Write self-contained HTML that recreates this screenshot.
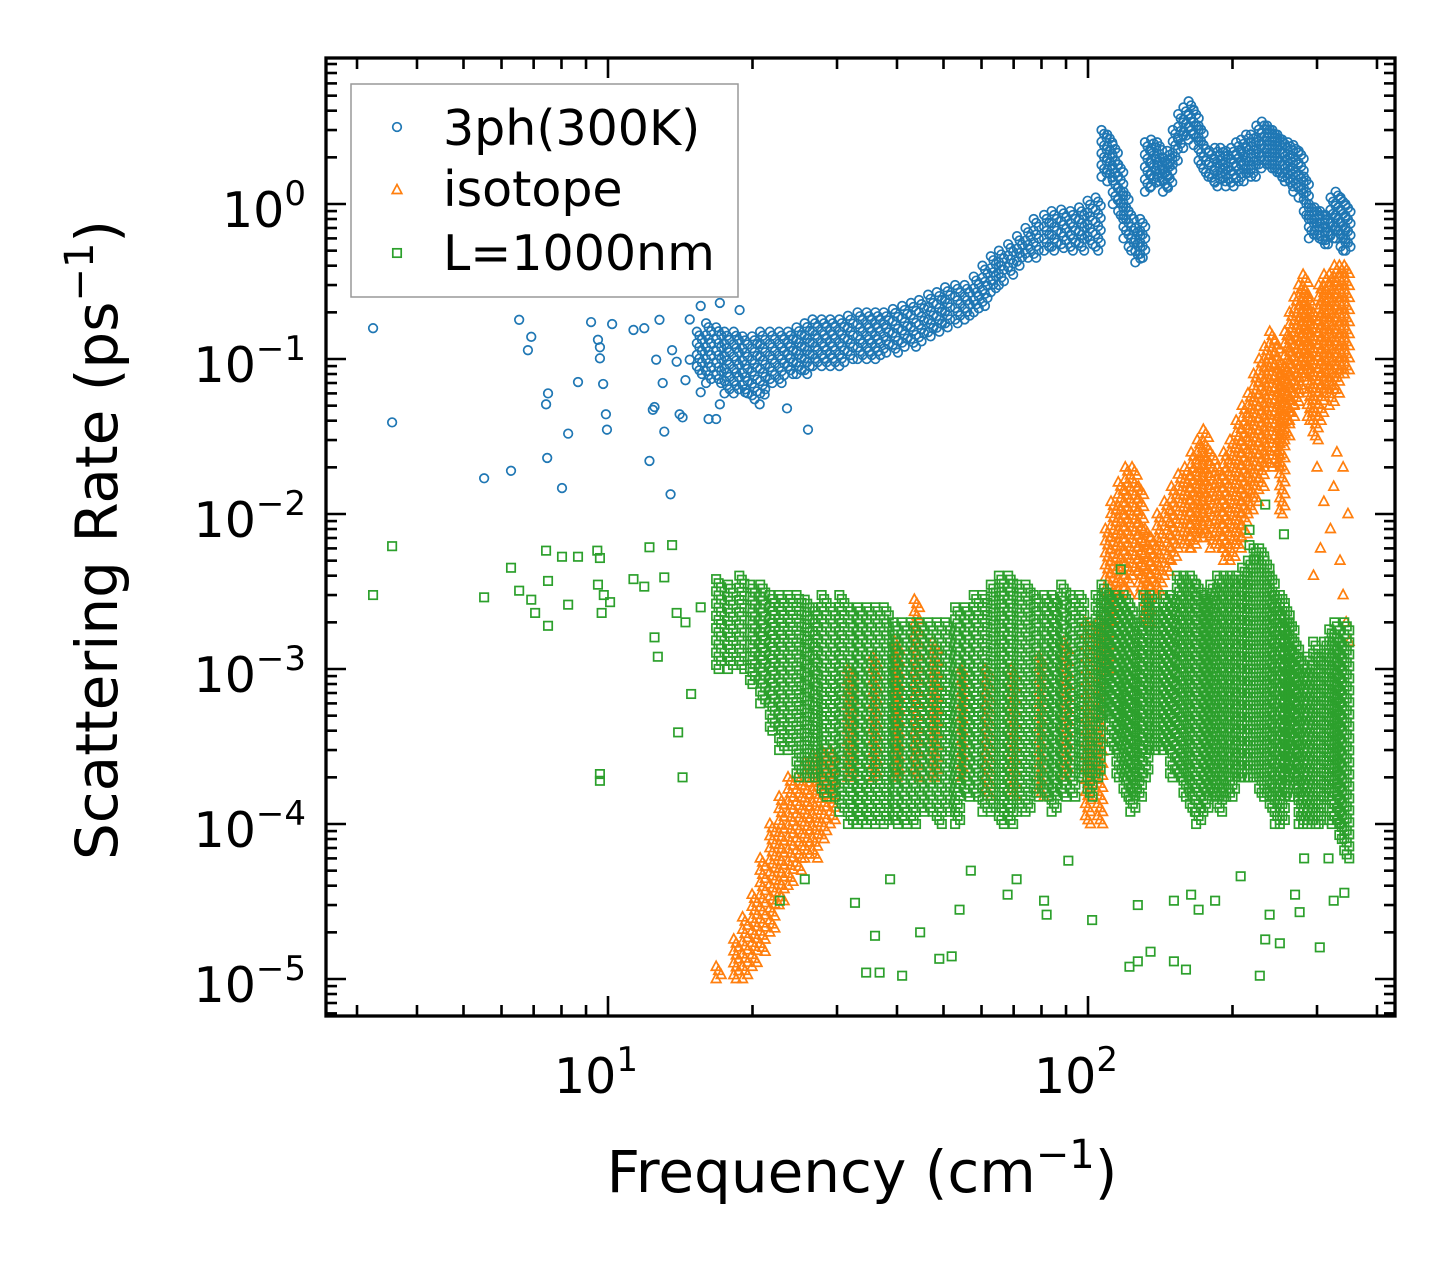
<!DOCTYPE html>
<html><head><meta charset="utf-8"><style>
body{margin:0;background:#fff;}
svg text{font-family:"DejaVu Sans","Liberation Sans",sans-serif;fill:#000;}
</style></head><body>
<svg id="chart" width="1455" height="1265" viewBox="0 0 1455 1265" xmlns="http://www.w3.org/2000/svg">
<rect width="1455" height="1265" fill="#fff"/>
<g id="marks"></g>
<g id="axes"></g>
</svg>
<script>
// ---------- data (frequency cm^-1, scattering rate ps^-1) ----------
const xTickLabels=["1","2"];
const yTickExps=["0","−1","−2","−3","−4","−5"];
// 3ph scattered points [f, rate]
const blueFreq=[3.24,3.55,5.52,6.28,6.53,6.92,6.81,7.43,7.5,7.47,8.02,8.26,8.66,9.22,9.53,9.62,9.62,9.77,9.9,9.95,10.2,11.3,11.9,12.2,12.4,12.5,12.6,12.8,13.0,13.1,13.5,13.6,13.9,14.1,14.3,14.5,14.8,15.6,16.2,16.8,17.1,19.3,20.7,21.2,23.6,26.1,17.1,18.8,15.6,14.8];
const blueRate=[0.158,0.039,0.017,0.019,0.179,0.139,0.114,0.051,0.06,0.023,0.0147,0.033,0.071,0.173,0.133,0.119,0.101,0.069,0.044,0.035,0.168,0.154,0.158,0.022,0.047,0.049,0.099,0.179,0.07,0.034,0.0134,0.114,0.096,0.044,0.042,0.073,0.099,0.061,0.041,0.041,0.051,0.061,0.051,0.059,0.048,0.035,0.23,0.207,0.22,0.18];
// 3ph dense band: frequency, low, high
const blueBandF=[15.5,16.2,17,17.7,18.5,19.3,20.2,21,22,23,24,25,26,27,28.2,29.4,30.7,32,33.5,35,36.5,38,39.7,41.5,43.3,45,47,49,51,53.5,56,58.5,61,63.5,66,69,72,75,78,82,85,89,93,97,101,105,108,111,114,117,120,123,127,130,133,137,141,145,148,152,156,160,164,168,172,176,181,186,191,196,201,206,211,216,221,227,233,239,245,251,257,264,271,278,285,292,300,308,316,324,332,340,348];
const blueBandLo=[.08,.07,.07,.06,.06,.06,.055,.06,.07,.07,.08,.08,.08,.09,.09,.09,.09,.1,.1,.1,.1,.11,.11,.12,.12,.13,.14,.15,.16,.17,.18,.2,.22,.27,.3,.35,.4,.45,.45,.5,.5,.52,.5,.5,.55,.5,1.5,1.4,1.0,.8,.6,.5,.42,.45,1.2,1.3,1.4,1.2,1.3,1.8,2.3,2.6,2.8,2.4,1.8,1.5,1.4,1.3,1.4,1.3,1.3,1.4,1.4,1.5,1.5,1.7,1.8,1.7,1.6,1.5,1.4,1.3,1.2,1.1,.8,.6,.6,.55,.55,.6,.6,.5,.5];
const blueBandHi=[.15,.17,.16,.15,.15,.14,.14,.15,.15,.15,.15,.16,.17,.18,.18,.18,.18,.19,.2,.2,.2,.2,.21,.22,.23,.24,.26,.27,.29,.3,.3,.34,.4,.46,.5,.55,.62,.7,.8,.85,.9,.92,.9,.95,1.05,1.1,3.0,2.8,2.4,1.8,1.2,.9,.7,.8,2.5,2.6,2.5,2.0,2.2,3.0,3.8,4.2,4.6,4.0,3.2,2.4,2.2,2.3,2.3,2.2,2.3,2.5,2.6,2.8,2.8,3.2,3.4,3.2,3.0,2.8,2.6,2.5,2.4,2.2,1.5,1.0,.95,.9,.85,1.1,1.2,1.1,1.0];
// isotope band
const orangeBandF=[17,18.5,19.3,20.2,21,22,23,24,25,26,27,28.2,29.4,32,36,40,44,48,55,62,70,80,90,100,106,110,113,117,121,125,129,133,137,141,146,151,156,161,166,171,176,182,188,194,200,206,212,218,224,230,236,242,248,254,260,266,272,278,284,290,298,306,314,322,330,338,346];
const orangeBandLo=[1e-5,1e-5,1e-5,1.2e-5,1.5e-5,2e-5,3e-5,4e-5,5e-5,6e-5,6e-5,8e-5,1e-4,2e-4,2e-4,2e-4,2e-4,2e-4,2e-4,1.5e-4,1.5e-4,1.5e-4,2e-4,1e-4,1e-4,1e-3,2e-3,3e-3,3e-3,4e-3,3e-3,2e-3,3e-3,3e-3,4e-3,5e-3,6e-3,6e-3,6e-3,7e-3,7e-3,6e-3,6e-3,5e-3,5e-3,6e-3,7e-3,1e-2,1.2e-2,1.5e-2,2e-2,2e-2,2e-2,1e-2,3e-2,4e-2,5e-2,6e-2,8e-2,4e-2,3e-2,4e-2,6e-2,5e-2,6e-2,8e-2,8e-2];
const orangeBandHi=[1.2e-5,1.8e-5,2.5e-5,3.5e-5,6e-5,1e-4,1.5e-4,2e-4,2e-4,2.5e-4,2.8e-4,3e-4,3e-4,1e-3,1.2e-3,1.5e-3,2.8e-3,1.5e-3,1e-3,1e-3,1e-3,1.2e-3,1.5e-3,2e-3,2e-3,8e-3,1.2e-2,1.6e-2,2e-2,2e-2,1.5e-2,8e-3,7e-3,1e-2,1.2e-2,1.5e-2,1.8e-2,2e-2,2.5e-2,3e-2,3.5e-2,2.5e-2,2e-2,2.5e-2,3e-2,4e-2,5e-2,6e-2,8e-2,1e-1,1.2e-1,1.5e-1,1.3e-1,9e-2,1.5e-1,2e-1,2.5e-1,3e-1,3.5e-1,2.5e-1,2e-1,3e-1,3.5e-1,3.5e-1,4e-1,4e-1,4e-1];
const orangeFreq=[300,310,320,335,340,345,350,295,305,325,348,340,330];
const orangeRate=[2e-2,1.2e-2,8e-3,5e-3,3e-3,2e-3,1.5e-3,4e-3,6e-3,1.5e-2,1e-2,2e-2,2.5e-2];
// L=1000nm band
const greenBandF=[17,18,19,20,21,22,23,24,25,26,27,28.2,29.4,30.7,32,33.5,35,36.5,38,39.7,41.5,43.3,45,47,49,51,53.5,56,58.5,61,63.5,66,69,72,75,78,82,85,89,93,97,101,105,108,112,116,120,124,128,132,136,140,145,150,155,160,165,170,176,182,188,194,200,206,212,218,224,230,236,242,248,254,260,266,272,278,284,290,298,306,314,322,330,338,346];
const greenBandLo=[1e-3,1e-3,1e-3,8e-4,6e-4,4e-4,3e-4,3e-4,2e-4,2e-4,2e-4,1.5e-4,1.5e-4,1.2e-4,1e-4,1e-4,1e-4,1e-4,1e-4,1e-4,1e-4,1e-4,1.2e-4,1.2e-4,1e-4,1.2e-4,1e-4,1.5e-4,1.5e-4,1.2e-4,1.2e-4,1e-4,1e-4,1.2e-4,1.2e-4,1.5e-4,1.5e-4,1.2e-4,1.5e-4,1.5e-4,2e-4,1.5e-4,2e-4,5e-4,3e-4,2e-4,1.5e-4,1.2e-4,1.5e-4,2e-4,3e-4,3e-4,3e-4,2e-4,2e-4,1.5e-4,1.2e-4,1e-4,1.2e-4,1.5e-4,1.2e-4,1.5e-4,1.5e-4,2e-4,2e-4,2e-4,2e-4,1.5e-4,1.5e-4,1.2e-4,1e-4,1e-4,1.5e-4,2e-4,1.5e-4,1e-4,1e-4,1e-4,1e-4,1e-4,1.5e-4,1e-4,1e-4,8e-5,6e-5];
const greenBandHi=[3.8e-3,3.5e-3,4e-3,3.5e-3,3.5e-3,3e-3,3e-3,3e-3,3e-3,2.8e-3,2.5e-3,3e-3,2.5e-3,3e-3,2.5e-3,2.5e-3,2.5e-3,2.5e-3,2.5e-3,2e-3,2e-3,2e-3,2e-3,2e-3,2e-3,2e-3,2.5e-3,2.5e-3,3e-3,3e-3,3.5e-3,4e-3,4e-3,3.5e-3,3.5e-3,3e-3,3e-3,3e-3,3.5e-3,3e-3,3e-3,2e-3,3e-3,3.5e-3,3e-3,3e-3,3e-3,2.5e-3,2e-3,3e-3,3e-3,2.5e-3,3e-3,3e-3,4e-3,4e-3,4e-3,3.5e-3,3e-3,3.5e-3,4e-3,4e-3,4e-3,4e-3,4.5e-3,5e-3,6e-3,6e-3,5e-3,4e-3,3e-3,3e-3,2.5e-3,2e-3,1.5e-3,1.2e-3,1e-3,1.2e-3,1.5e-3,1.2e-3,1.5e-3,1.8e-3,2e-3,1.5e-3,2e-3];
const greenFreq=[3.24,3.55,5.52,6.28,6.53,6.92,7.05,7.43,7.5,7.5,8.02,8.26,8.66,9.5,9.62,9.53,9.7,9.8,10.1,9.62,9.62,11.3,11.9,12.2,12.5,12.7,13.1,13.6,14,14.3,14.9,13.9,14.5,15.6,22.8,25.7,32.7,34.5,36.8,36,38.7,41,44.7,49,52,54,57,68,71,81,82,91,102,122,127,135,127,151,160,151,164,170,184,208,228,239,234,251,270,276,304,325,342,317,282,217,234,256,222,217,117];
const greenRate=[3e-3,6.2e-3,2.9e-3,4.5e-3,3.2e-3,2.8e-3,2.3e-3,5.8e-3,3.7e-3,1.9e-3,5.3e-3,2.6e-3,5.3e-3,5.8e-3,5.2e-3,3.5e-3,2.3e-3,3e-3,2.7e-3,2.1e-4,1.9e-4,3.8e-3,3.4e-3,6.1e-3,1.6e-3,1.2e-3,3.9e-3,6.3e-3,3.9e-4,2e-4,6.9e-4,2.3e-3,2e-3,2.5e-3,3.2e-5,4.4e-5,3.1e-5,1.1e-5,1.1e-5,1.9e-5,4.4e-5,1.05e-5,2e-5,1.35e-5,1.4e-5,2.8e-5,5e-5,3.5e-5,4.4e-5,3.2e-5,2.6e-5,5.8e-5,2.4e-5,1.2e-5,1.3e-5,1.5e-5,3e-5,1.3e-5,1.15e-5,3.2e-5,3.5e-5,2.8e-5,3.2e-5,4.6e-5,1.05e-5,2.6e-5,1.8e-5,1.7e-5,3.5e-5,2.7e-5,1.6e-5,3.2e-5,3.6e-5,6e-5,6e-5,7.9e-3,1.15e-2,7.4e-3,5.1e-3,6.3e-3,4.4e-3];

// ---------- axis functions ----------
const X0=608, XD=480, Y0=204, YD=155;
function xs(f){return X0+(Math.log10(f)-1)*XD;}
function ys(v){return Y0-Math.log10(v)*YD;}
const NS="http://www.w3.org/2000/svg";
const marks=document.getElementById('marks');
const axes=document.getElementById('axes');
const BLUE="#1f77b4",ORANGE="#ff7f0e",GREEN="#2ca02c";

function marker(g,kind,cx,cy){
  let el;
  if(kind==='circle'){el=document.createElementNS(NS,'circle');el.setAttribute('cx',cx);el.setAttribute('cy',cy);el.setAttribute('r',4.3);el.setAttribute('stroke',BLUE);}
  else if(kind==='tri'){el=document.createElementNS(NS,'polygon');el.setAttribute('points',`${cx},${cy-5.5} ${cx-4.8},${cy+3.5} ${cx+4.8},${cy+3.5}`);el.setAttribute('stroke',ORANGE);}
  else {el=document.createElementNS(NS,'rect');el.setAttribute('x',cx-4.2);el.setAttribute('y',cy-4.2);el.setAttribute('width',8.4);el.setAttribute('height',8.4);el.setAttribute('stroke',GREEN);}
  el.setAttribute('fill','none');el.setAttribute('stroke-width','1.7');
  g.appendChild(el);return el;
}
function series(name,kind,F,V,BF,BL,BH){
  const g=document.createElementNS(NS,'g');
  
  
  marks.appendChild(g);
  for(let i=0;i<BF.length;i++){
    const x=xs(BF[i]),y1=ys(BH[i]),y2=ys(BL[i]);
    const n=Math.max(1,Math.round((y2-y1)/4));
    for(let k=0;k<=n;k++){
      const m=marker(g,kind,x+((k%3)-1)*2.5,y1+(y2-y1)*k/n);
      
      
    }
  }
  for(let i=0;i<F.length;i++){
    const m=marker(g,kind,xs(F[i]),ys(V[i]));
    
    
  }
}
series('series-3ph','circle',blueFreq,blueRate,blueBandF,blueBandLo,blueBandHi);
series('series-isotope','tri',orangeFreq,orangeRate,orangeBandF,orangeBandLo,orangeBandHi);
series('series-boundary','sq',greenFreq,greenRate,greenBandF,greenBandLo,greenBandHi);

// ---------- axes ----------
const L=326,R=1395,T=58,B=1016;
function line(x1,y1,x2,y2,w){const l=document.createElementNS(NS,'line');l.setAttribute('x1',x1);l.setAttribute('y1',y1);l.setAttribute('x2',x2);l.setAttribute('y2',y2);l.setAttribute('stroke','#000');l.setAttribute('stroke-width',w);axes.appendChild(l);return l;}
for(let d=0;d<=2;d++){for(let m=1;m<=9;m++){
  const f=m*Math.pow(10,d);const x=xs(f);if(x<L+2||x>R-2)continue;
  const len=m===1?20:11;
  const a=line(x,B,x,B-len,2.6);
  const b=line(x,T,x,T+len,2.6);
}}
for(let e=-6;e<=0;e++){for(let m=1;m<=9;m++){
  const v=m*Math.pow(10,e);const y=ys(v);if(y<T+2||y>B-2)continue;
  const len=m===1?20:11;
  const a=line(L,y,L+len,y,2.6);
  const b=line(R,y,R-len,y,2.6);
}}
const frame=document.createElementNS(NS,'rect');
frame.setAttribute('x',L);frame.setAttribute('y',T);frame.setAttribute('width',R-L);frame.setAttribute('height',B-T);
frame.setAttribute('fill','none');frame.setAttribute('stroke','#000');frame.setAttribute('stroke-width','3.3');


axes.appendChild(frame);

function label(x,y,base,sup,anchor,name){
  const t=document.createElementNS(NS,'text');
  t.setAttribute('x',x);t.setAttribute('y',y);t.setAttribute('text-anchor',anchor);t.setAttribute('font-size','49');
  
  
  const a=document.createElementNS(NS,'tspan');a.textContent=base;t.appendChild(a);
  const s=document.createElementNS(NS,'tspan');s.setAttribute('dy','-22');s.setAttribute('font-size','34');s.textContent=sup;t.appendChild(s);
  axes.appendChild(t);
}
xTickLabels.forEach((s,i)=>label(xs(Math.pow(10,i+1))-12,1093,'10',s,'middle','x-tick-label'));
yTickExps.forEach((s,i)=>label(306,ys(Math.pow(10,-i))+23,'10',s,'end','y-tick-label'));
</script>
<svg style="position:absolute;left:0;top:0" width="1455" height="1265">
<text x="862" y="1192" text-anchor="middle" font-size="58" font-family="DejaVu Sans, Liberation Sans, sans-serif">Frequency (cm<tspan dy="-24" font-size="40">−1</tspan><tspan dy="24">)</tspan></text>
<text transform="translate(117,540) rotate(-90)" text-anchor="middle" font-size="58" font-family="DejaVu Sans, Liberation Sans, sans-serif">Scattering Rate (ps<tspan dy="-24" font-size="40">−1</tspan><tspan dy="24">)</tspan></text>
<g>
<rect x="351" y="84" width="387" height="213" fill="#fff" fill-opacity="0.85" stroke="#999" stroke-width="1.5"/>
<g><circle cx="397" cy="127" r="4.3" fill="none" stroke="#1f77b4" stroke-width="1.7"/><text x="443" y="145" font-size="49" font-family="DejaVu Sans, Liberation Sans, sans-serif">3ph(300K)</text></g>
<g><polygon points="397,184.5 392.2,193.5 401.8,193.5" fill="none" stroke="#ff7f0e" stroke-width="1.7"/><text x="443" y="206" font-size="49" font-family="DejaVu Sans, Liberation Sans, sans-serif">isotope</text></g>
<g><rect x="392.8" y="248.8" width="8.4" height="8.4" fill="none" stroke="#2ca02c" stroke-width="1.7"/><text x="443" y="270" font-size="49" font-family="DejaVu Sans, Liberation Sans, sans-serif">L=1000nm</text></g>
</g>
</svg>
</body></html>
